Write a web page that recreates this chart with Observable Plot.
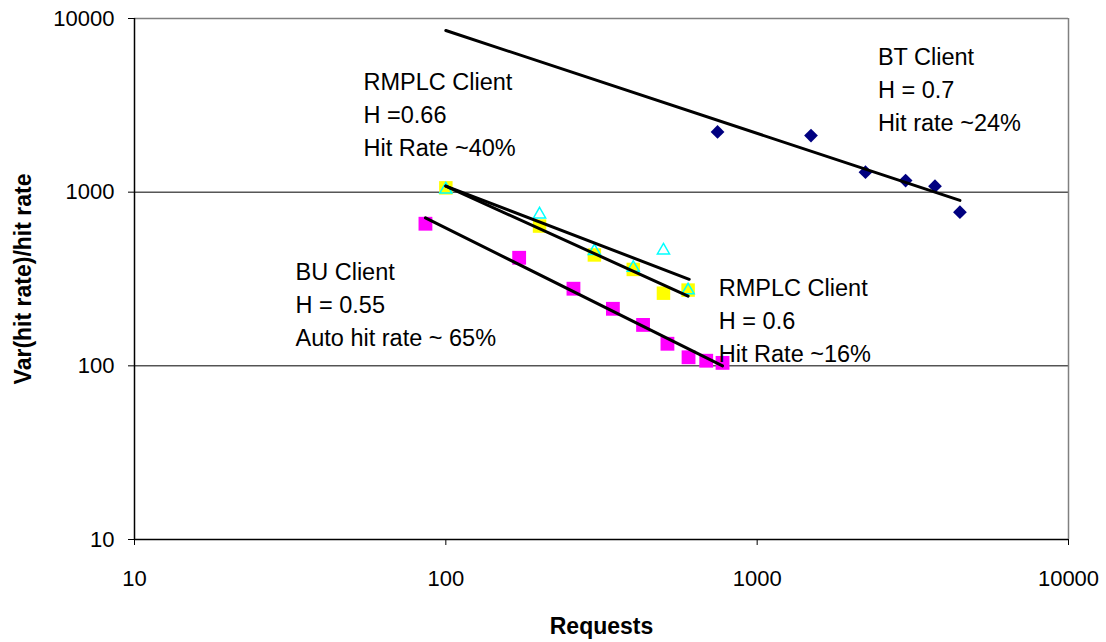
<!DOCTYPE html>
<html><head><meta charset="utf-8">
<script src="https://cdn.jsdelivr.net/npm/d3@7"></script>
<script src="https://cdn.jsdelivr.net/npm/@observablehq/plot@0.6"></script>
<style>html,body{margin:0;padding:0;background:#fff;}</style>
</head><body><div id="chart"></div>
<script>
// BT Client (navy diamonds)
const btRequests = [746, 1489, 2228, 2998, 3725, 4480];
const btValues   = [2222, 2118, 1303, 1167, 1083, 767];
// RMPLC series (yellow squares)
const rmplcRequests = [100, 200, 300, 400, 500, 600];
const rmplcYellow   = [1059, 638, 435, 359, 262, 273];
// RMPLC series (cyan triangles)
const rmplcCyan     = [1036, 745, 458, 367, 462, 272];
// BU Client (magenta squares)
const buRequests = [86, 172, 257, 344, 430, 515, 602, 686, 774];
const buValues   = [658, 419, 278, 213, 172, 134, 112, 107, 104];
// fitted trend lines (end points)
const btFitX = [100, 4480],  btFitY = [8530, 896];
const cyanFitX = [100, 605], cyanFitY = [1083, 315];
const yellowFitX = [100, 600], yellowFitY = [1083, 252];
const buFitX = [86, 774],    buFitY = [711, 100];
// annotations
const noteTexts = [
  "RMPLC Client\nH =0.66\nHit Rate ~40%",
  "BT Client\nH = 0.7\nHit rate ~24%",
  "BU Client\nH = 0.55\nAuto hit rate ~ 65%",
  "RMPLC Client\nH = 0.6\nHit Rate ~16%"
];
const noteX = [54.4, 2442, 32.9, 753];
const noteY = [2888, 4000, 232.6, 186.6];
// axes
const xTicks = [10, 100, 1000, 10000];
const yTicks = [10, 100, 1000, 10000];
const gridValues = [100, 1000];
const xTitle = "Requests";
const yTitle = "Var(hit rate)/hit rate";

const pts = (xs, ys) => xs.map((x, i) => ({x, y: ys[i]}));
const notes = noteTexts.map((t, i) => ({t, x: noteX[i], y: noteY[i]}));
const font = "'Liberation Sans', Arial, Helvetica, sans-serif";

const chart = Plot.plot({
  width: 1106, height: 642,
  marginLeft: 134, marginRight: 38, marginTop: 18, marginBottom: 103,
  x: {type: "log", domain: [10, 10000]},
  y: {type: "log", domain: [10, 10000]},
  style: {fontFamily: font, background: "#fff", color: "#000", overflow: "visible"},
  marks: [
    Plot.gridY(gridValues, {stroke: "#000", strokeOpacity: 1, strokeWidth: 1}),
    Plot.ruleY([10000], {stroke: "#808080", strokeWidth: 1.5}),
    Plot.ruleX([10000], {stroke: "#808080", strokeWidth: 1.5}),
    Plot.axisY(yTicks, {tickFormat: d => String(d), tickSize: 6, tickPadding: 14, fontSize: 22, label: null, stroke: "#000"}),
    Plot.axisX(xTicks, {tickFormat: d => String(d), tickSize: 6, tickPadding: 25, fontSize: 22, label: null, stroke: "#000"}),
    Plot.ruleX([10], {stroke: "#000", strokeWidth: 1.5}),
    Plot.ruleY([10], {stroke: "#000", strokeWidth: 1.5}),
    Plot.dot(pts(rmplcRequests, rmplcYellow), {x: "x", y: "y", symbol: "square", r: 7.6, fill: "#FFFF00", stroke: "none"}),
    Plot.dot(pts(rmplcRequests, rmplcCyan), {x: "x", y: "y", symbol: "triangle2", r: 5.8, fill: "none", stroke: "#00FFFF", strokeWidth: 1.5}),
    Plot.dot(pts(buRequests, buValues), {x: "x", y: "y", symbol: "square", r: 7.8, fill: "#FF00FF", stroke: "none"}),
    Plot.dot(pts(btRequests, btValues), {x: "x", y: "y", symbol: "diamond2", r: 6.2, fill: "#000080", stroke: "none"}),
    Plot.line(pts(btFitX, btFitY), {x: "x", y: "y", stroke: "#000", strokeWidth: 3}),
    Plot.line(pts(cyanFitX, cyanFitY), {x: "x", y: "y", stroke: "#000", strokeWidth: 3}),
    Plot.line(pts(yellowFitX, yellowFitY), {x: "x", y: "y", stroke: "#000", strokeWidth: 3}),
    Plot.line(pts(buFitX, buFitY), {x: "x", y: "y", stroke: "#000", strokeWidth: 3}),
    Plot.text(notes, {x: "x", y: "y", text: "t", textAnchor: "start", lineAnchor: "middle", lineHeight: 1.4, fontSize: 23.5, fill: "#000"}),
    Plot.text([xTitle], {frameAnchor: "bottom", dy: 87, text: d => d, textAnchor: "middle", lineAnchor: "middle", fontSize: 23, fontWeight: "bold", fill: "#000"}),
    Plot.text([yTitle], {frameAnchor: "left", dx: -111, rotate: -90, text: d => d, textAnchor: "middle", lineAnchor: "middle", fontSize: 23, fontWeight: "bold", fill: "#000"})
  ]
});
document.getElementById("chart").appendChild(chart);
</script>
</body></html>
